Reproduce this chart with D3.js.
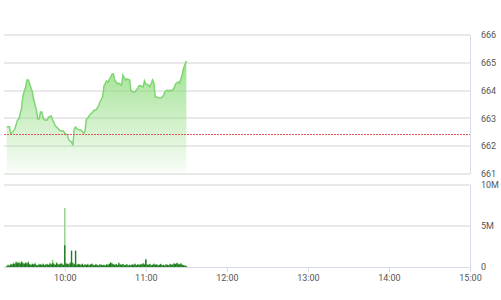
<!DOCTYPE html>
<html>
<head>
<meta charset="utf-8">
<script src="https://cdn.jsdelivr.net/npm/d3@7"></script>
<style>
  body { margin: 0; background: #fff; }
  text { font-family: Roboto, "Liberation Sans", sans-serif; font-size: 9px; fill: #555; }
</style>
</head>
<body>
<div id="chart"></div>
<script>
// intraday index, 9:15 - 15:00
var priceTimes = ["9:17","9:19","9:20","9:22","9:23","9:25","9:26","9:28","9:29","9:31","9:32","9:33","9:34","9:36","9:37","9:39","9:40","9:41","9:42","9:43","9:44","9:45","9:47","9:48","9:50","9:51","9:53","9:54","9:56","9:57","9:59",
  "10:00","10:02","10:03","10:05","10:06","10:07","10:08","10:09","10:11","10:12","10:14","10:15","10:16","10:17","10:19","10:20","10:22","10:23","10:25","10:26","10:28","10:29","10:31","10:32","10:34","10:35","10:36","10:37","10:39","10:40","10:42","10:43","10:45","10:46","10:48","10:49","10:51","10:52","10:54","10:55","10:56","10:58","10:59",
  "11:00","11:02","11:03","11:05","11:06","11:07","11:08","11:10","11:11","11:13","11:14","11:16","11:17","11:18","11:19","11:21","11:22","11:24","11:25","11:27","11:28","11:30"];
var priceValues = [662.70,662.70,662.44,662.55,662.62,662.94,662.98,663.37,663.81,664.13,664.38,664.38,664.24,663.95,663.66,663.30,662.98,662.98,663.23,663.23,663.01,662.94,662.94,663.05,663.09,662.94,662.73,662.69,662.58,662.55,662.55,
  662.47,662.40,662.22,662.15,662.03,662.62,662.69,662.62,662.58,662.58,662.47,662.55,662.98,663.01,663.16,663.19,663.30,663.30,663.45,663.59,663.77,664.17,664.35,664.31,664.49,664.60,664.60,664.38,664.24,664.27,664.20,664.56,664.38,664.42,664.38,663.99,663.95,663.95,664.09,664.17,664.17,664.13,664.35,
  664.24,664.20,664.13,664.38,664.27,663.77,663.77,663.73,663.73,663.81,663.95,664.02,663.99,664.02,663.99,664.09,664.24,664.31,664.27,664.60,664.81,665.06];
var refPrice = 662.45;
var priceTicks = [661, 662, 663, 664, 665, 666];

// per-minute volume (millions), 9:17 .. 11:30
var volStart = "9:17";
var volLight = [.15,.30,.25,.40,.35,.55,.45,.70,.60,.65,
  .50,.75,.55,.45,.60,.50,.70,.40,.30,.45,
  .35,.50,.30,.25,.40,.35,.30,.45,.25,.35,
  .40,.30,.55,.35,.90,.45,.30,.60,.40,.35,
  .50,.45,.30,7.2,.50,.45,.35,.60,.40,.55,
  .35,.50,.30,.40,.35,.30,.45,.25,.35,.30,
  .40,.25,.35,.45,.30,.25,.40,.30,.20,.35,
  .30,.25,.30,.20,.35,.30,.45,.60,.50,.35,
  .30,.40,.25,.55,.35,.30,.40,.25,.30,.35,
  .20,.30,.25,.35,.30,.45,.25,.35,.30,.40,
  .35,.50,.40,1.0,.35,.30,.40,.25,.30,.45,
  .30,.35,.25,.30,.40,.25,.30,.20,.35,.30,
  .25,.40,.30,.35,.50,.40,.55,.45,.35,.50,
  .30,.25,.20,.15];
var volDark = [.10,.20,.15,.30,.30,.40,.35,.55,.45,.50,
  .40,.60,.45,.35,.50,.40,.55,.30,.25,.35,
  .30,.40,.20,.20,.30,.30,.25,.35,.20,.30,
  .30,.25,.40,.30,.50,.35,.25,.45,.30,.30,
  .40,.35,.25,2.65,.40,.35,.30,.45,2.0,.45,
  .30,2.0,.25,.35,.30,.25,.35,.20,.30,.25,
  .30,.20,.30,.35,.25,.20,.30,.25,.15,.30,
  .25,.20,.25,.15,.30,.25,.35,.50,.40,.30,
  .25,.35,.20,.45,.30,.25,.35,.20,.25,.30,
  .15,.25,.20,.30,.25,.35,.20,.30,.25,.30,
  .30,.40,.30,.90,.30,.25,.35,.20,.25,.35,
  .25,.30,.20,.25,.35,.20,.25,.15,.30,.25,
  .20,.35,.25,.30,.40,.35,.45,.35,.30,.40,
  .25,.20,.15,.10];
var volTicks = [0, 5, 10];
var volTickLabels = ["0", "5M", "10M"];
var timeTicks = ["10:00", "11:00", "12:00", "13:00", "14:00", "15:00"];

var width = 501, height = 300;
var parse = d3.timeParse("%H:%M");

var svg = d3.select("#chart").append("svg")
    .attr("width", width)
    .attr("height", height);

var x = d3.scaleTime()
    .domain([parse("9:15"), parse("15:00")])
    .range([4, 470]);

var y = d3.scaleLinear().domain([661, 666]).range([174, 35]);
var yv = d3.scaleLinear().domain([0, 10]).range([267, 185]);

var prices = priceTimes.map((t, i) => ({t: parse(t), v: priceValues[i]}));
var t0 = parse(volStart);
var vols = volLight.map((v, i) => ({t: d3.timeMinute.offset(t0, i), light: v, dark: volDark[i]}));

// grid lines
svg.selectAll(".pgrid").data(priceTicks).enter().append("line")
    .attr("x1", 4).attr("x2", 470)
    .attr("y1", d => Math.round(y(d))).attr("y2", d => Math.round(y(d)))
    .attr("stroke", "#e2e2e2").attr("stroke-width", 1.5);

svg.selectAll(".vgrid").data(volTicks.slice(1)).enter().append("line")
    .attr("x1", 4).attr("x2", 470)
    .attr("y1", d => Math.round(yv(d))).attr("y2", d => Math.round(yv(d)))
    .attr("stroke", "#e2e2e2").attr("stroke-width", 1.5);

// right border
svg.append("line").attr("x1", 470.5).attr("x2", 470.5).attr("y1", y(666)).attr("y2", y(661))
    .attr("stroke", "#d3dbe6");
svg.append("line").attr("x1", 470.5).attr("x2", 470.5).attr("y1", yv(10)).attr("y2", yv(0))
    .attr("stroke", "#d3dbe6");

// price area
var grad = svg.append("defs").append("linearGradient")
    .attr("id", "fillGrad")
    .attr("gradientUnits", "userSpaceOnUse")
    .attr("x1", 0).attr("x2", 0)
    .attr("y1", y(665)).attr("y2", y(661));
grad.append("stop").attr("offset", "0%").attr("stop-color", "#8fdc7f").attr("stop-opacity", 0.85);
grad.append("stop").attr("offset", "100%").attr("stop-color", "#8fdc7f").attr("stop-opacity", 0.04);

svg.append("path")
    .datum(prices)
    .attr("fill", "url(#fillGrad)")
    .attr("d", d3.area().x(d => x(d.t)).y0(y(661)).y1(d => y(d.v)));

svg.append("path")
    .datum(prices)
    .attr("fill", "none")
    .attr("stroke", "#7fd672")
    .attr("stroke-width", 1.5)
    .attr("d", d3.line().x(d => x(d.t)).y(d => y(d.v)));

// reference line
svg.append("line")
    .attr("x1", 4).attr("x2", 470)
    .attr("y1", Math.round(y(refPrice)) + 0.5).attr("y2", Math.round(y(refPrice)) + 0.5)
    .attr("stroke", "#e25c5c")
    .attr("stroke-width", 1.2)
    .attr("stroke-dasharray", "2,1");

// volume bars
svg.selectAll(".vl").data(vols).enter().append("rect")
    .attr("x", d => x(d.t) - 0.7)
    .attr("width", 1.4)
    .attr("y", d => yv(d.light))
    .attr("height", d => yv(0) - yv(d.light))
    .attr("fill", "#8fd18a");
svg.selectAll(".vd").data(vols).enter().append("rect")
    .attr("x", d => x(d.t) - 0.7)
    .attr("width", 1.4)
    .attr("y", d => yv(d.dark))
    .attr("height", d => yv(0) - yv(d.dark))
    .attr("fill", "#1f7a1f");

// time axis
var xAxis = d3.axisBottom(x)
    .tickValues(timeTicks.map(parse))
    .tickFormat(d3.timeFormat("%H:%M"))
    .tickSize(5)
    .tickPadding(3);
var gx = svg.append("g").attr("transform", "translate(0," + yv(0) + ")").call(xAxis);
gx.select(".domain").attr("stroke", "#d3dbe6").attr("d", "M4,0.5H470");
gx.selectAll(".tick line").attr("stroke", "#d3dbe6");
gx.selectAll("text").style("fill", "#555").style("font-size", "9px").style("font-family", "Roboto, sans-serif");

// right labels
svg.selectAll(".pl").data(priceTicks).enter().append("text")
    .attr("x", 481).attr("y", d => y(d)).attr("dy", "0.35em")
    .text(d => d);
svg.selectAll(".vlab").data(volTicks).enter().append("text")
    .attr("x", 481).attr("y", d => yv(d)).attr("dy", "0.35em")
    .text((d, i) => volTickLabels[i]);
</script>
</body>
</html>
